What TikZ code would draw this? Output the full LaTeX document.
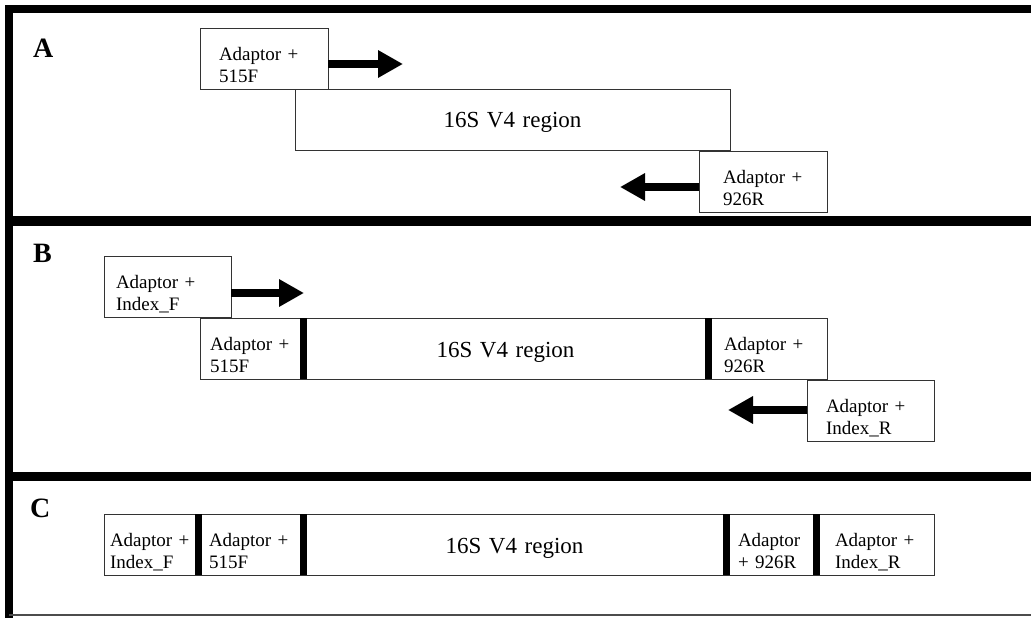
\documentclass[tikz,border=0pt]{standalone}
\usepackage{fontspec}
\setmainfont{Liberation Serif}
\usetikzlibrary{arrows.meta,positioning}

\begin{document}
\begin{tikzpicture}[x=1pt, y=-1pt,
  primer/.style = {shape=rectangle, draw=black!80, line width=0.9pt,
    inner ysep=0pt, outer sep=0pt, text height=32pt, text depth=29pt,
    align=left, font=\fontsize{19}{22}\selectfont},
  regionbox/.style = {shape=rectangle, draw=black!80, line width=0.9pt,
    inner sep=0pt, outer sep=0pt, text height=39pt, text depth=22pt,
    align=center, font=\fontsize{23}{27}\selectfont},
  junction/.style = {line width=7pt},
  fatarrow/.style = {line width=8pt, -{Triangle[length=25pt,width=26pt]}},
  panel/.style = {anchor=base west, inner sep=0pt,
    font=\fontsize{28}{30}\selectfont\bfseries}]
  \useasboundingbox (0,0) rectangle (1031,618);

  % frame
  \draw[line width=8pt] (1031,9) -- (9,9) -- (9,618);
  \draw[line width=10pt] (9,221) -- (1031,221);
  \draw[line width=9pt] (9,476) -- (1031,476);
  \draw[line width=1.5pt, black!70] (9,615) -- (1031,615);

  % A
  \node[panel] (labA) at (33,58) {A};
  \node[primer, anchor=north west, inner xsep=19pt, text width=90pt] (a515) at (200,28) {Adaptor +\\515F};
  \node[regionbox, anchor=north west, text width=435pt] (aReg) at (295,89) {16S V4 region};
  \node[primer, anchor=north west, inner xsep=24pt, text width=80pt] (a926) at (699,151) {Adaptor +\\926R};
  \coordinate (aFtip) at (403,64);
  \coordinate (aRtip) at (620,187);
  \draw[fatarrow] (a515.east |- aFtip) -- (aFtip);
  \draw[fatarrow] (a926.west |- aRtip) -- (aRtip);

  % B
  \node[panel] (labB) at (33,262) {B};
  \node[primer, anchor=north west, inner xsep=12pt, text width=103pt] (bIdxF) at (104,256) {Adaptor +\\Index\_F};
  \node[primer, anchor=north west, inner xsep=10pt, text width=83pt] (b515) at (200,318) {Adaptor +\\515F};
  \node[regionbox, right=0pt of b515, text width=405pt] (bReg) {16S V4 region};
  \node[primer, right=0pt of bReg, inner xsep=16pt, text width=87pt] (b926) {Adaptor +\\926R};
  \node[primer, anchor=north west, inner xsep=19pt, text width=89pt] (bIdxR) at (807,380) {Adaptor +\\Index\_R};
  \draw[junction] (b515.north east) -- (b515.south east);
  \draw[junction] (b926.north west) -- (b926.south west);
  \coordinate (bFtip) at (304,293);
  \coordinate (bRtip) at (728,410);
  \draw[fatarrow] (bIdxF.east |- bFtip) -- (bFtip);
  \draw[fatarrow] (bIdxR.west |- bRtip) -- (bRtip);

  % C
  \node[panel] (labC) at (30,517) {C};
  \node[primer, anchor=north west, inner xsep=6pt, text width=82pt] (cIdxF) at (104,514) {Adaptor +\\Index\_F};
  \node[primer, right=0pt of cIdxF, inner xsep=11pt, text width=83pt] (c515) {Adaptor +\\515F};
  \node[regionbox, right=0pt of c515, text width=423pt] (cReg) {16S V4 region};
  \node[primer, right=0pt of cReg, inner xsep=12pt, text width=66pt] (c926) {Adaptor\\+ 926R};
  \node[primer, right=0pt of c926, inner xsep=19pt, text width=80pt] (cIdxR) {Adaptor~+\\Index\_R};
  \foreach \seg in {cIdxF, c515, cReg, c926}
    \draw[junction] (\seg.north east) -- (\seg.south east);
\end{tikzpicture}
\end{document}
